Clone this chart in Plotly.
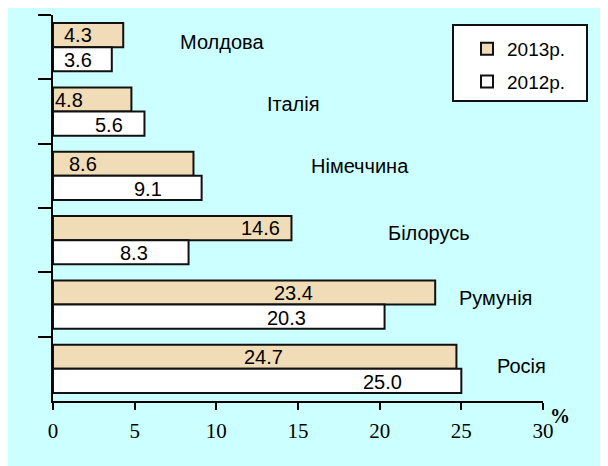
import plotly.graph_objects as go

countries = ["Молдова", "Італія", "Німеччина", "Білорусь", "Румунія", "Росія"]
values_2013 = [4.3, 4.8, 8.6, 14.6, 23.4, 24.7]
values_2012 = [3.6, 5.6, 9.1, 8.3, 20.3, 25.0]
x_ticks = [0, 5, 10, 15, 20, 25, 30]

# label placement (layout only)
lbl_x_2013 = [1.55, 0.98, 1.85, 12.7, 14.75, 12.9]
lbl_x_2012 = [1.55, 3.4, 5.8, 4.96, 14.3, 20.2]
country_lbl_x = [10.35, 14.7, 18.8, 23.0, 27.1, 28.7]
country_lbl_dy = [5, 8, 10, 7, 7, 3]

# page body has an 8px margin: figure sits at (8,8)
PL, PT = 45, 7          # plot left/top inside figure
PW, PH = 490, 386       # plot size

def px2paper_x(px):
    return (px - 8 - PL) / PW

def px2paper_y(py):
    return 1 - (py - 8 - PT) / PH

TAN = "#f0dcb6"
SANS = "Liberation Sans, Arial"
SERIF = "Liberation Serif, Times New Roman"

fig = go.Figure()
fig.add_trace(go.Bar(y=countries, x=values_2013, orientation="h", name="2013р.",
                     legendgroup="a",
                     marker=dict(color=TAN, line=dict(color="#111111", width=2))))
fig.add_trace(go.Bar(y=countries, x=values_2012, orientation="h", name="2012р.",
                     legendgroup="b",
                     marker=dict(color="white", line=dict(color="#111111", width=2))))

anns = []
for i, c in enumerate(countries):
    anns.append(dict(x=lbl_x_2013[i], y=c, yshift=12, text=f"{values_2013[i]:.1f}",
                     showarrow=False, font=dict(family=SANS, size=20, color="black")))
    anns.append(dict(x=lbl_x_2012[i], y=c, yshift=-13, text=f"{values_2012[i]:.1f}",
                     showarrow=False, font=dict(family=SANS, size=20, color="black")))
    anns.append(dict(x=country_lbl_x[i], y=c, yshift=country_lbl_dy[i], text=c,
                     showarrow=False, font=dict(family=SANS, size=20, color="black")))
anns.append(dict(x=1.01, y=0.0, xref="paper", yref="paper", xanchor="left", yanchor="top",
                 yshift=-2, text="<b>%</b>", showarrow=False,
                 font=dict(family=SERIF, size=20, color="black")))

fig.update_layout(
    width=600, height=458,
    margin=dict(l=PL, r=65, t=PT, b=65),
    paper_bgcolor="#ccffff",
    plot_bgcolor="rgba(0,0,0,0)",
    barmode="group", bargap=0.25, bargroupgap=0,
    showlegend=True,
    legend=dict(x=px2paper_x(467), y=px2paper_y(30), xanchor="left", yanchor="top",
                bgcolor="rgba(0,0,0,0)", borderwidth=0,
                font=dict(family=SANS, size=19, color="black"),
                itemwidth=30, traceorder="grouped", tracegroupgap=5),
    annotations=anns,
    shapes=[dict(type="rect", xref="paper", yref="paper",
                 x0=px2paper_x(453), x1=px2paper_x(587),
                 y0=px2paper_y(101), y1=px2paper_y(25),
                 fillcolor="white", line=dict(color="#111111", width=2), layer="above")],
    xaxis=dict(range=[0, 30], tickvals=x_ticks, showgrid=False, zeroline=False,
               showline=True, linecolor="black", linewidth=2,
               ticks="outside", ticklen=7, tickwidth=2, tickcolor="black",
               ticklabelstandoff=3,
               tickfont=dict(family=SERIF, size=21, color="black")),
    yaxis=dict(range=[5.5, -0.5], showgrid=False, zeroline=False, showticklabels=False,
               showline=True, linecolor="black", linewidth=2,
               ticks="outside", ticklen=13, tickwidth=2, tickcolor="black",
               tickson="boundaries"),
)

fig.write_html("out.html")
